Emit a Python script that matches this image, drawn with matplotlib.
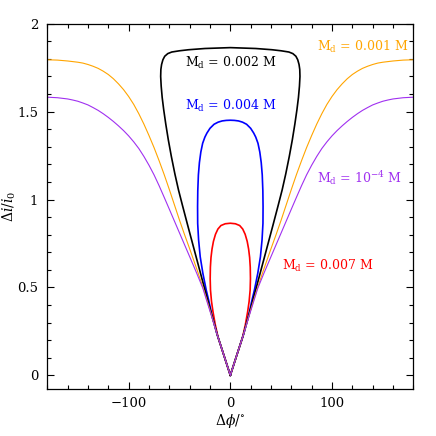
import numpy as np
import matplotlib
matplotlib.use("Agg")
import matplotlib.pyplot as plt
from matplotlib.ticker import MultipleLocator, FixedLocator

plt.rcParams["font.family"] = ["DejaVu Serif"]
plt.rcParams["mathtext.fontset"] = "dejavuserif"

# left halves (curves are symmetric about dphi = 0)
phi_1e4 = [-180, -170, -160, -155, -150, -145, -140, -135, -130, -125, -120, -115, -110, -105, -100, -95, -90, -85,
           -80, -75, -70, -65, -60, -50, -40, -33, -27, -20, -13, -6.5, 0]
di_1e4 = [1.582, 1.579, 1.572, 1.566, 1.559, 1.549, 1.538, 1.523, 1.507, 1.488, 1.467, 1.444, 1.419, 1.392, 1.362, 1.328, 1.290, 1.245,
          1.195, 1.140, 1.078, 1.012, 0.945, 0.81, 0.675, 0.58, 0.495, 0.365, 0.233, 0.117, 0.0]

phi_001 = [-180, -170, -160, -150, -145, -140, -135, -130, -125, -120, -115, -110, -105, -100, -95, -90, -85, -80,
           -75, -70, -65, -60, -55, -50, -45, -40, -32, -25.7, -19, -13, -6.5, 0]
di_001 = [1.795, 1.793, 1.788, 1.781, 1.776, 1.768, 1.758, 1.746, 1.730, 1.711, 1.687, 1.658, 1.625, 1.586, 1.541, 1.488,
          1.429, 1.364, 1.295, 1.220, 1.141, 1.057, 0.970, 0.883, 0.80, 0.72, 0.588, 0.478, 0.352, 0.233, 0.117, 0.0]

phi_002 = [0, -6.5, -13, -19, -24.7, -30, -36, -42, -47, -51, -54.5, -58, -61, -63.5, -65.5, -67, -68, -68.5,
           -68.3, -67.6, -66.3, -64.5, -61.5, -57.6, -50, -41, -25, 0]
di_002 = [0, 0.117, 0.233, 0.358, 0.48, 0.595, 0.725, 0.855, 0.965, 1.055, 1.145, 1.245, 1.34, 1.43, 1.51, 1.58, 1.645, 1.70,
          1.74, 1.768, 1.795, 1.815, 1.83, 1.839, 1.846, 1.852, 1.859, 1.864]

phi_004 = [0, -6.5, -13, -18, -21, -23.7, -27, -29.6, -31.2, -32.1, -32.2, -32.0, -31.4, -30.4, -29, -27.2, -25,
           -23, -20, -16, -12, -8, -4, 0]
di_004 = [0, 0.117, 0.233, 0.34, 0.42, 0.485, 0.58, 0.674, 0.77, 0.864, 0.96, 1.05, 1.14, 1.21, 1.27, 1.32, 1.355,
          1.378, 1.405, 1.428, 1.440, 1.447, 1.45, 1.451]

phi_007 = [0, -6.5, -12, -14.8, -17, -18.5, -19.5, -19.8, -19.6, -19.0, -18.0, -16.6, -14.6, -12.2, -9.2, -5, 0]
di_007 = [0, 0.117, 0.215, 0.288, 0.36, 0.42, 0.485, 0.55, 0.615, 0.67, 0.718, 0.762, 0.802, 0.832, 0.852, 0.862, 0.865]


def mirror(x, y):
    x = np.array(x, dtype=float)
    y = np.array(y, dtype=float)
    return np.concatenate([x, -x[::-1][1:]]), np.concatenate([y, y[::-1][1:]])


fig = plt.figure(figsize=(4.36, 4.36), dpi=100)
ax = fig.add_axes([0.1085, 0.1078, 0.8395, 0.8378])

x, y = mirror(phi_007, di_007)
ax.plot(x, y, color="#ff0000", lw=1.2)
x, y = mirror(phi_004, di_004)
ax.plot(x, y, color="#0000ff", lw=1.2)
x, y = mirror(phi_002, di_002)
ax.plot(x, y, color="black", lw=1.2)
x, y = mirror(phi_001, di_001)
ax.plot(x, y, color="#ffa500", lw=0.8)
x, y = mirror(phi_1e4, di_1e4)
ax.plot(x, y, color="#a030f0", lw=0.8)

fs = 9
ax.text(-44.5, 1.775, r"M$_{\rm d}$ = 0.002 M", color="black", fontsize=fs, va="center")
ax.text(-44.5, 1.53, r"M$_{\rm d}$ = 0.004 M", color="#0000ff", fontsize=fs, va="center")
ax.text(85.5, 1.87, r"M$_{\rm d}$ = 0.001 M", color="#ffa500", fontsize=fs, va="center")
ax.text(85.5, 1.12, r"M$_{\rm d}$ = 10$^{-4}$ M", color="#a030f0", fontsize=fs, va="center")
ax.text(51, 0.62, r"M$_{\rm d}$ = 0.007 M", color="#ff0000", fontsize=fs, va="center")

ax.set_xlim(-180, 180)
ax.set_ylim(-0.078, 2)
ax.xaxis.set_major_locator(FixedLocator([-100, 0, 100]))
ax.xaxis.set_minor_locator(MultipleLocator(20))
ax.yaxis.set_major_locator(MultipleLocator(0.5))
ax.yaxis.set_minor_locator(MultipleLocator(0.1))
ax.set_yticks([0, 0.5, 1, 1.5, 2])
ax.set_yticklabels(["0", "0.5", "1", "1.5", "2"])

ax.tick_params(which="both", direction="in", top=True, right=True, width=0.8, labelsize=9.5)
ax.tick_params(which="major", length=5)
ax.tick_params(which="minor", length=2.6)
ax.tick_params(axis="x", pad=6)
ax.tick_params(axis="y", pad=6.5)
for s in ax.spines.values():
    s.set_linewidth(0.9)

ax.set_xlabel(r"$\Delta\phi/^{\circ}$", fontsize=10)
ax.set_ylabel(r"$\Delta i/i_0$", fontsize=10)
ax.yaxis.set_label_coords(-0.08, 0.5)
ax.xaxis.set_label_coords(0.5, -0.062)

fig.savefig("out.png", dpi=100)
